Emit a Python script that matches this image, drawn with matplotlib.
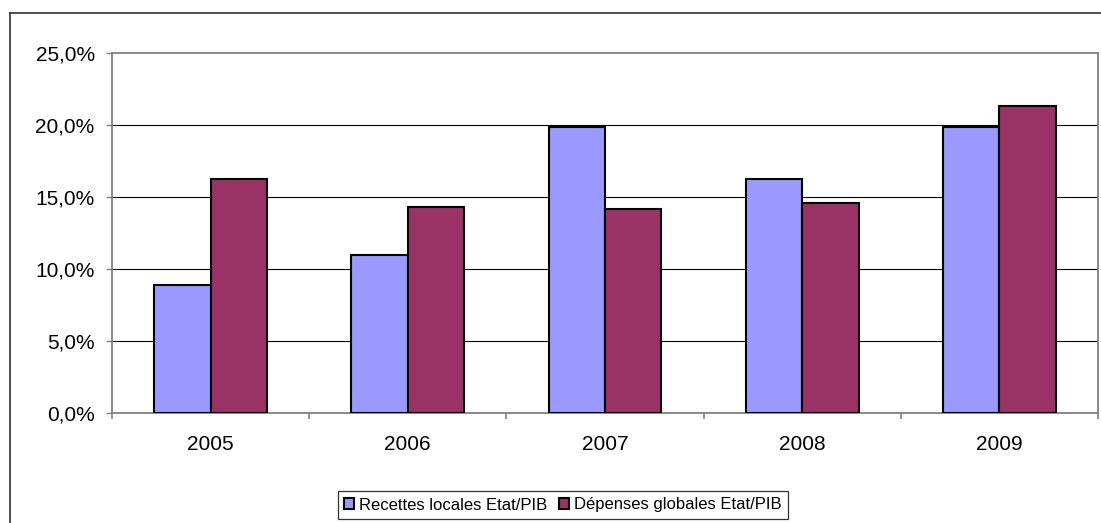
import matplotlib
matplotlib.use("Agg")
import matplotlib.pyplot as plt
from matplotlib.lines import Line2D
from matplotlib.ticker import FixedLocator, FuncFormatter
import numpy as np

years = ["2005", "2006", "2007", "2008", "2009"]
recettes = [8.9, 11.0, 19.85, 16.25, 19.85]
depenses = [16.25, 14.3, 14.15, 14.6, 21.35]
series_names = ["Recettes locales Etat/PIB", "Dépenses globales Etat/PIB"]
yticks = [0, 5, 10, 15, 20, 25]

plt.rcParams['font.family'] = ['Liberation Sans', 'DejaVu Sans']

W, H = 1101, 523
fig = plt.figure(figsize=(W / 100, H / 100), dpi=100)
ax = fig.add_axes([112 / W, 1 - 413 / H, (1098 - 112) / W, (413 - 53) / H])

x = np.arange(len(years))
w = 1 / 3.5
ax.bar(x - w / 2, recettes, w, color="#9999FF", edgecolor="black", linewidth=1.5,
       label=series_names[0], zorder=3)
ax.bar(x + w / 2, depenses, w, color="#993366", edgecolor="black", linewidth=1.5,
       label=series_names[1], zorder=3)

ax.set_xlim(-0.5, len(years) - 0.5)
ax.set_ylim(0, 25)
ax.yaxis.set_major_locator(FixedLocator(yticks))
ax.yaxis.set_major_formatter(FuncFormatter(lambda v, p: f"{v:.1f}%".replace(".", ",")))
ax.set_xticks(x)
ax.set_xticklabels(years)
ax.set_xticks(np.arange(-0.5, len(years)), minor=True)

for yv in yticks[1:-1]:
    ax.axhline(yv, color="black", linewidth=0.8, zorder=1)

for s in ax.spines.values():
    s.set_color("#808080")
    s.set_linewidth(1.3)

ax.tick_params(axis="y", direction="out", length=4.5, width=1, color="#808080",
               labelsize=15, pad=8)
ax.tick_params(axis="x", which="major", length=0, labelsize=15, pad=16)
ax.tick_params(axis="x", which="minor", direction="out", length=4, width=1.2, color="#808080")

# outer chart border
fig.add_artist(Line2D([10 / W, 10 / W], [0, 1 - 13 / H], transform=fig.transFigure,
                      color="#404040", linewidth=1.3))
fig.add_artist(Line2D([10 / W, 1], [1 - 13 / H, 1 - 13 / H], transform=fig.transFigure,
                      color="#404040", linewidth=1.3))

leg = fig.legend(loc="center", bbox_to_anchor=(563 / W, 1 - 505 / H), ncol=2,
                 fontsize=12, frameon=True, fancybox=False, edgecolor="black",
                 handlelength=0.6, handleheight=0.6, handletextpad=0.3,
                 columnspacing=0.7, borderpad=0.4, borderaxespad=0)
leg.get_frame().set_linewidth(0.9)

fig.savefig("out.png", dpi=100)
